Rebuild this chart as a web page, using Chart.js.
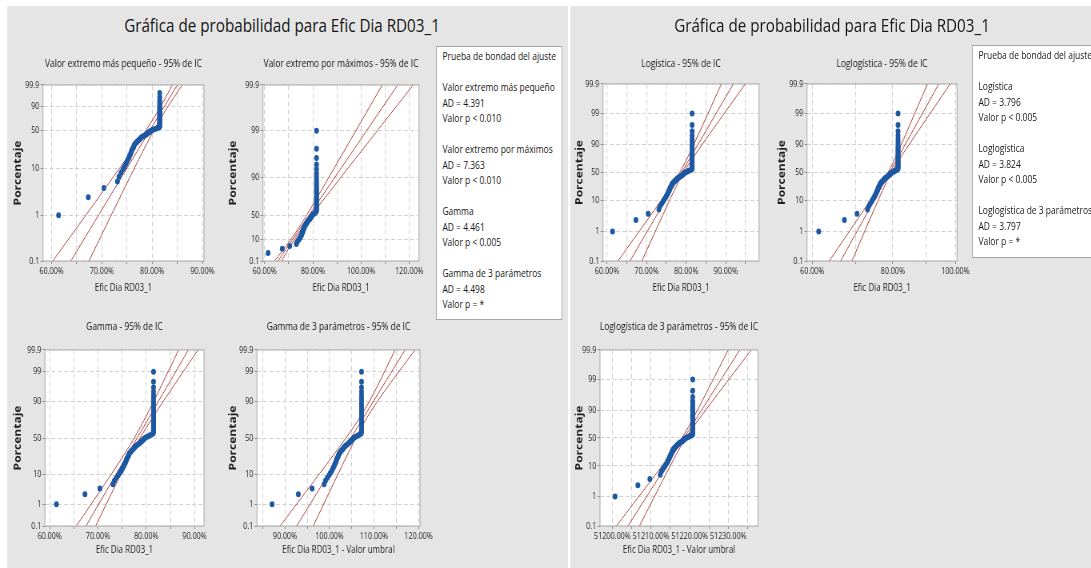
<!DOCTYPE html>
<html lang="es">
<head>
<meta charset="utf-8">
<title>Gráfica de probabilidad para Efic Dia RD03_1</title>
<script src="https://cdn.jsdelivr.net/npm/chart.js@4.4.1/dist/chart.umd.min.js"></script>
<style>
  html, body { margin: 0; padding: 0; background: #fff; overflow: hidden; }
  #stage {
    position: absolute; left: 0; top: 0; width: 1364px; height: 568px;
    transform: scaleX(0.8); transform-origin: 0 0;
    font-family: "Open Sans", "Noto Sans", "Liberation Sans", sans-serif; color: #161616;
  }
  .panel { position: absolute; background: #e5e5e5; }
  .main-title { position: absolute; white-space: nowrap; font-size: 19px; transform: translate(-50%, -50%); }
  .gof { position: absolute; background: #fff; border: 1px solid #a4a4a4; box-sizing: border-box;
         font-size: 10.6px; line-height: 15.5px; white-space: nowrap; overflow: hidden; }
  canvas { position: absolute; }
</style>
</head>
<body>
<div id="stage"></div>
<script>
// ---------------- data ----------------
// Efic Dia RD03_1 (%), sorted ascending, n = 70
const eficiencia = [
  61.4, 67.3, 70.4, 73.1, 73.4, 73.8, 74.2, 74.5, 74.8, 75.0,
  75.2, 75.4, 75.5, 75.7, 75.8, 75.9, 76.0, 76.2, 76.3, 76.4,
  76.5, 76.7, 76.9, 77.1, 77.3, 77.5, 77.7, 77.9, 78.2, 78.5,
  78.8, 79.0, 79.2, 79.4, 79.6, 79.9, 80.3, 80.7, 81.1, 81.4,
  81.5, 81.5, 81.5, 81.5, 81.5, 81.5, 81.5, 81.5, 81.5, 81.5,
  81.5, 81.5, 81.5, 81.5, 81.5, 81.5, 81.5, 81.5, 81.5, 81.5,
  81.5, 81.5, 81.5, 81.5, 81.5, 81.5, 81.5, 81.5, 81.5, 81.5
];

// percent tick labels of the probability axes
const marcasPct    = [0.1, 1, 10, 50, 90, 99, 99.9];
const marcasVEMin  = [0.1, 1, 10, 50, 90, 99.9];
const marcasVEMax  = [0.1, 10, 50, 90, 99, 99.9];

// x-axis gridlines and labelled ticks
const rejillaA = [60, 65, 70, 75, 80, 85, 90],          etiqA = [60, 70, 80, 90];
const rejillaB = [60, 70, 80, 90, 100, 110, 120],       etiqB = [60, 80, 100, 120];
const rejillaC = [60, 65, 70, 75, 80, 85, 90],          etiqC = [60, 70, 80, 90];
const rejillaD = [85, 90, 95, 100, 105, 110, 115, 120], etiqD = [90, 100, 110, 120];
const rejillaE = [60, 65, 70, 75, 80, 85, 90, 95],      etiqE = [60, 70, 80, 90];
const rejillaF = [60, 70, 80, 90, 100],                 etiqF = [60, 80, 100];
const rejillaG = [51200, 51205, 51210, 51215, 51220, 51225, 51230, 51235];
const etiqG    = [51200, 51210, 51220, 51230];

// goodness-of-fit tables
const distIzq = ['Valor extremo más pequeño', 'Valor extremo por máximos', 'Gamma', 'Gamma de 3 parámetros'];
const adIzq   = [4.391, 7.363, 4.461, 4.498];
const pIzq    = ['< 0.010', '< 0.010', '< 0.005', '= *'];
const distDer = ['Logística', 'Loglogística', 'Loglogística de 3 parámetros'];
const adDer   = [3.796, 3.824, 3.797];
const pDer    = ['< 0.005', '< 0.005', '= *'];

// ---------------- helpers ----------------
const S = 0.8;                       // horizontal compression of the figure
const FONT = '"Open Sans", "Noto Sans", "Liberation Sans", sans-serif';
const stage = document.getElementById('stage');

// inverse standard normal (Acklam)
function normInv(p) {
  const a = [-3.969683028665376e+01, 2.209460984245205e+02, -2.759285104469687e+02, 1.383577518672690e+02, -3.066479806614716e+01, 2.506628277459239e+00];
  const b = [-5.447609879822406e+01, 1.615858368580409e+02, -1.556989798598866e+02, 6.680131188771972e+01, -1.328068155288572e+01];
  const c = [-7.784894002430293e-03, -3.223964580411365e-01, -2.400758277161838e+00, -2.549732539343734e+00, 4.374664141464968e+00, 2.938163982698783e+00];
  const d = [7.784695709041462e-03, 3.224671290700398e-01, 2.445134137142996e+00, 3.754408661907416e+00];
  const pl = 0.02425;
  if (p < pl) {
    const q = Math.sqrt(-2 * Math.log(p));
    return (((((c[0]*q+c[1])*q+c[2])*q+c[3])*q+c[4])*q+c[5]) / ((((d[0]*q+d[1])*q+d[2])*q+d[3])*q+1);
  }
  if (p > 1 - pl) {
    const q = Math.sqrt(-2 * Math.log(1 - p));
    return -(((((c[0]*q+c[1])*q+c[2])*q+c[3])*q+c[4])*q+c[5]) / ((((d[0]*q+d[1])*q+d[2])*q+d[3])*q+1);
  }
  const q = p - 0.5, r = q * q;
  return (((((a[0]*r+a[1])*r+a[2])*r+a[3])*r+a[4])*r+a[5])*q / (((((b[0]*r+b[1])*r+b[2])*r+b[3])*r+b[4])*r+1);
}

// probability-axis scores for each distribution family
const puntaje = {
  vemin: p => Math.log(-Math.log(1 - p)),
  vemax: p => -Math.log(-Math.log(p)),
  gamma: p => normInv(p),
  logit: p => Math.log(p / (1 - p))
};

// median-rank plotting positions (Benard)
const n = eficiencia.length;
const rangoMediano = eficiencia.map((_, i) => (i + 1 - 0.3) / (n + 0.4));

// ---------------- panel backgrounds, titles, tables ----------------
function addDiv(cls, l, t, r, b, html) {
  const d = document.createElement('div');
  d.className = cls;
  d.style.left = (l / S) + 'px'; d.style.top = t + 'px';
  d.style.width = ((r - l) / S) + 'px'; d.style.height = (b - t) + 'px';
  if (html) d.innerHTML = html;
  stage.appendChild(d);
  return d;
}
addDiv('panel', 7, 6, 568, 568);
addDiv('panel', 570, 6, 1091, 568);

function addTitle(cx, cy, text) {
  const d = document.createElement('div');
  d.className = 'main-title';
  d.style.left = (cx / S) + 'px'; d.style.top = cy + 'px';
  d.textContent = text;
  stage.appendChild(d);
}
addTitle(282, 25, 'Gráfica de probabilidad para Efic Dia RD03_1');
addTitle(832, 25, 'Gráfica de probabilidad para Efic Dia RD03_1');

function tablaBondad(nombres, ad, p) {
  const lines = ['Prueba de bondad del ajuste', ''];
  nombres.forEach((nm, i) => {
    lines.push(nm, 'AD = ' + ad[i].toFixed(3), 'Valor p ' + p[i]);
    if (i < nombres.length - 1) lines.push('');
  });
  return '<div style="padding:2px 0 0 7px">' +
    lines.map(s => '<div style="height:15.5px">' + (s || '&nbsp;') + '</div>').join('') + '</div>';
}
addDiv('gof', 436, 46, 562, 320, tablaBondad(distIzq, adIzq, pIzq));
addDiv('gof', 972, 45, 1100, 258, tablaBondad(distDer, adDer, pDer));

// ---------------- plot definitions ----------------
const graficas = [
  { titulo: 'Valor extremo más pequeño - 95% de IC', ejeX: 'Efic Dia RD03_1', escala: 'vemin', marcas: marcasVEMin,
    caja: [43, 85, 204, 261], sep: { y: 25, x: 27, t: 21 },
    x: { tipo: 'linear', min: 58.3, max: 90.3, rejilla: rejillaA, etiquetas: etiqA },
    ajuste: { pos: 80.37, esc: 2.394 }, ic: { h0: 0.7, t0: 0.45, k: 0.48 } },
  { titulo: 'Valor extremo por máximos - 95% de IC', ejeX: 'Efic Dia RD03_1', escala: 'vemax', marcas: marcasVEMax,
    caja: [263, 85, 419, 261], sep: { y: 30, x: 27, t: 21 },
    x: { tipo: 'linear', min: 59.3, max: 124, rejilla: rejillaB, etiquetas: etiqB },
    ajuste: { pos: 76.36, esc: 5.62 }, ic: { h0: 0.7, t0: -0.5, k: 0.86 } },
  { titulo: 'Gamma - 95% de IC', ejeX: 'Efic Dia RD03_1', escala: 'gamma', marcas: marcasPct,
    caja: [45, 350, 204, 526], sep: { y: 27, x: 24, t: 23 },
    x: { tipo: 'linear', min: 59.03, max: 91.95, rejilla: rejillaC, etiquetas: etiqC },
    ajuste: { pos: 78.11, esc: 3.427 }, ic: { h0: 0.6, t0: 0, k: 0.62 } },
  { titulo: 'Gamma de 3 parámetros - 95% de IC', ejeX: 'Efic Dia RD03_1 - Valor umbral', escala: 'gamma', marcas: marcasPct,
    caja: [257, 350, 420, 526], sep: { y: 24, x: 24, t: 23 }, umbral: -25.7,
    x: { tipo: 'linear', min: 83.71, max: 120.34, rejilla: rejillaD, etiquetas: etiqD },
    ajuste: { pos: 104.8, esc: 3.94 }, ic: { h0: 0.8, t0: 0.833, k: 0.93 } },
  { titulo: 'Logística - 95% de IC', ejeX: 'Efic Dia RD03_1', escala: 'logit', marcas: marcasPct,
    caja: [603, 84, 759, 261], sep: { y: 23, x: 27, t: 20 },
    x: { tipo: 'linear', min: 59.0, max: 98.4, rejilla: rejillaE, etiquetas: etiqE },
    ajuste: { pos: 78.85, esc: 1.89 }, ic: { h0: 0.5, t0: 0, k: 0.43 } },
  { titulo: 'Loglogística - 95% de IC', ejeX: 'Efic Dia RD03_1', escala: 'logit', marcas: marcasPct,
    caja: [807, 84, 957, 261], sep: { y: 25, x: 27, t: 20 },
    x: { tipo: 'logarithmic', min: 58.9, max: 100.6, rejilla: rejillaF, etiquetas: etiqF },
    ajuste: { mediana: 79.1, sigma: 0.02537 }, ic: { h0: 0.006, t0: 0, k: 0.0058 } },
  { titulo: 'Loglogística de 3 parámetros - 95% de IC', ejeX: 'Efic Dia RD03_1 - Valor umbral', escala: 'logit', marcas: marcasPct,
    caja: [600, 350, 758, 526], sep: { y: 20, x: 24, t: 23 }, umbral: -51139.3,
    x: { tipo: 'logarithmic', min: 51196.8, max: 51237.7, rejilla: rejillaG, etiquetas: etiqG },
    ajuste: { mediana: 51218.5, sigma: 4.09e-5 }, ic: { h0: 1.0e-5, t0: 0, k: 8.3e-6 } }
];

// white plot area, frame and subplot title
const marco = {
  id: 'marco',
  beforeDraw(chart) {
    const a = chart.chartArea, c = chart.ctx;
    c.save(); c.fillStyle = '#ffffff';
    c.fillRect(a.left, a.top, a.right - a.left, a.bottom - a.top);
    c.restore();
  },
  afterDraw(chart, args, opts) {
    const a = chart.chartArea, c = chart.ctx;
    c.save();
    c.strokeStyle = '#a9a9a9'; c.lineWidth = 1;
    c.strokeRect(a.left, a.top, a.right - a.left, a.bottom - a.top);
    c.fillStyle = '#161616'; c.font = '10.5px ' + FONT;
    c.textAlign = 'center'; c.textBaseline = 'middle';
    c.fillText(opts.texto, (a.left + a.right) / 2, a.top - opts.dy);
    c.restore();
  }
};

const fmtPct = v => v.toFixed(2) + '%';

function dibujar(g) {
  const [l, t, r, b] = g.caja;
  const cl = Math.floor((l - 45) / S), cr = Math.ceil((r + 14) / S);
  const W = cr - cl, ct = t - 40, H = b - t + 80;
  const yW = l / S - cl, padR = cr - r / S;

  const cv = document.createElement('canvas');
  cv.width = W; cv.height = H;
  cv.style.left = cl + 'px'; cv.style.top = ct + 'px';
  cv.style.width = W + 'px'; cv.style.height = H + 'px';
  stage.appendChild(cv);

  const T = puntaje[g.escala];
  const yMin = T(0.001), yMax = T(0.999);
  const umbral = g.umbral || 0;
  const esLog = g.x.tipo === 'logarithmic';

  const puntos = eficiencia.map((v, i) => ({ x: v - umbral, y: T(rangoMediano[i]) }));

  // fitted line and 95% confidence band (in ln units for log-scaled axes)
  const centro = s => esLog ? Math.log(g.ajuste.mediana) + g.ajuste.sigma * s : g.ajuste.pos + g.ajuste.esc * s;
  const semi = s => Math.sqrt(g.ic.h0 * g.ic.h0 + g.ic.k * g.ic.k * (s - g.ic.t0) * (s - g.ic.t0));
  const aX = u => esLog ? Math.exp(u) : u;
  const ts = [];
  for (let j = 0; j <= 80; j++) ts.push(yMin - 1 + (yMax - yMin + 2) * j / 80);
  const linea = f => ts.map(s => ({ x: aX(f(s)), y: s }));

  const rojo = '#ab3a34';
  const lineStyle = { showLine: true, pointRadius: 0, borderColor: rojo, borderWidth: 1, fill: false, order: 2 };
  const gridOpts = { color: '#d2d2d2', lineWidth: 1, drawTicks: true, tickLength: 3, tickColor: '#8a8a8a' };

  new Chart(cv, {
    type: 'scatter',
    data: {
      datasets: [
        { data: puntos, pointRadius: 3, pointBackgroundColor: '#1d58a3', pointBorderWidth: 0, showLine: false, order: 1 },
        Object.assign({ data: linea(centro) }, lineStyle),
        Object.assign({ data: linea(s => centro(s) - semi(s)) }, lineStyle),
        Object.assign({ data: linea(s => centro(s) + semi(s)) }, lineStyle)
      ]
    },
    options: {
      responsive: false, animation: false, events: [],
      layout: { padding: { top: 40, right: padR, left: 0, bottom: 0 } },
      plugins: { legend: { display: false }, tooltip: { enabled: false }, marco: { texto: g.titulo, dy: g.sep.t } },
      scales: {
        x: {
          type: g.x.tipo, min: g.x.min, max: g.x.max, bounds: 'data',
          afterBuildTicks: s => { s.ticks = g.x.rejilla.map(v => ({ value: v })); },
          afterFit: s => { s.height = 40; s.paddingLeft = 0; s.paddingRight = 0; },
          ticks: {
            autoSkip: false, maxRotation: 0, minRotation: 0, padding: 2,
            font: { size: 9, family: FONT }, color: '#1e1e1e',
            callback: (v, i) => g.x.etiquetas.includes(g.x.rejilla[i]) ? fmtPct(g.x.rejilla[i]) : ''
          },
          grid: gridOpts,
          border: { display: false, dash: [5, 3] },
          title: { display: true, text: g.ejeX, font: { size: 10, family: FONT }, color: '#1e1e1e',
                   padding: { top: 0, bottom: 34 - g.sep.x } }
        },
        y: {
          type: 'linear', min: yMin, max: yMax, bounds: 'data',
          afterBuildTicks: s => { s.ticks = g.marcas.map(p => ({ value: T(p / 100) })); },
          afterFit: s => { s.width = yW; s.paddingTop = 0; s.paddingBottom = 0; },
          ticks: { autoSkip: false, padding: 1.5, font: { size: 9, family: FONT }, color: '#1e1e1e',
                   callback: (v, i) => String(g.marcas[i]) },
          grid: gridOpts,
          border: { display: false, dash: [5, 3] },
          title: { display: true, text: 'Porcentaje', font: { size: 12, weight: 'bold', family: FONT }, color: '#1e1e1e',
                   padding: { top: Math.max(0, (l - g.sep.y) / S - cl - 7.2), bottom: 0 } }
        }
      }
    },
    plugins: [marco]
  });
}

graficas.forEach(dibujar);
</script>
</body>
</html>
